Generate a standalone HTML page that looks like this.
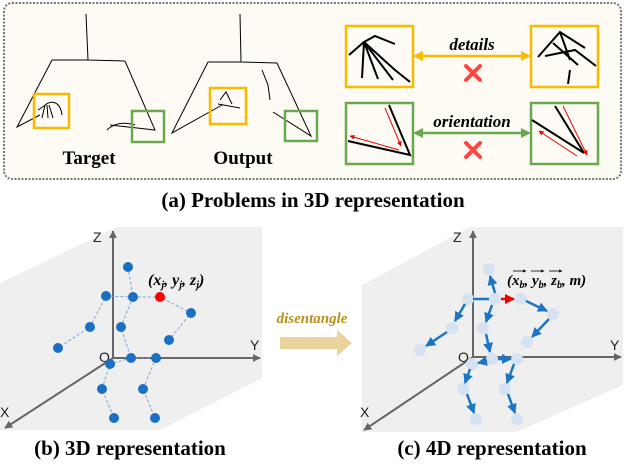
<!DOCTYPE html><html><head><style>body{margin:0;background:#fff}svg{display:block}</style></head><body>
<svg width="626" height="466" viewBox="0 0 626 466" xmlns="http://www.w3.org/2000/svg" font-family="Liberation Serif, serif">
<defs>
<marker id="ab" viewBox="0 0 10 10" refX="9" refY="5" markerWidth="4" markerHeight="4" orient="auto"><path d="M0,0L10,5L0,10z" fill="#1b75c6"/></marker>
<marker id="ar" viewBox="0 0 10 10" refX="9" refY="5" markerWidth="4" markerHeight="4" orient="auto"><path d="M0,0L10,5L0,10z" fill="#e00"/></marker>
<marker id="ag" viewBox="0 0 10 10" refX="9" refY="5" markerWidth="4" markerHeight="4" orient="auto"><path d="M0,0L10,5L0,10z" fill="#666"/></marker>
<marker id="ao" viewBox="0 0 10 10" refX="5" refY="5" markerWidth="4" markerHeight="4" orient="auto-start-reverse"><path d="M0,0L10,5L0,10z" fill="#fbb900"/></marker>
<marker id="agr" viewBox="0 0 10 10" refX="5" refY="5" markerWidth="4" markerHeight="4" orient="auto-start-reverse"><path d="M0,0L10,5L0,10z" fill="#6aa84f"/></marker>
<marker id="rs" viewBox="0 0 10 10" refX="9" refY="5" markerWidth="5" markerHeight="5" orient="auto-start-reverse"><path d="M0,0L10,5L0,10z" fill="#e00"/></marker>
<marker id="ak" viewBox="0 0 10 10" refX="9" refY="5" markerWidth="4" markerHeight="4" orient="auto"><path d="M0,0L10,5L0,10z" fill="#000"/></marker>
</defs>
<rect x="4" y="3" width="617" height="176" rx="8" fill="#fdfbf3" stroke="#777" stroke-width="2" stroke-dasharray="2,1.5"/>
<g stroke="#000" fill="none" stroke-width="1">
<path d="M86,14L88,60M52,60L88,60L125,61M52,60L17,127L40,115M125,61L155,130L110,125M107,130C115,122 125,122 135,125"/>
<path d="M44,106C50,100 60,100 62,115M45,105L42,118M47,105L48,118M49,105L53,118M44,106L38,110"/>
<path d="M240,14L241,62M208,62L241,62L277,63M208,62L172,133L222,105M277,63L311,136L273,112M262,70L268,85L270,100M220,100L226,92L232,104M218,104L240,108"/>
</g>
<g fill="none" stroke-width="2.5">
<rect x="34" y="94" width="35" height="34" stroke="#fbb900"/>
<rect x="132" y="111" width="32" height="31" stroke="#6aa84f"/>
<rect x="210" y="88" width="36" height="36" stroke="#fbb900"/>
<rect x="285" y="111" width="32" height="30" stroke="#6aa84f"/>
<rect x="346" y="26" width="67" height="61" stroke="#fbb900"/>
<rect x="531" y="26" width="67" height="61" stroke="#fbb900"/>
<rect x="346" y="103" width="67" height="61" stroke="#6aa84f"/>
<rect x="531" y="103" width="67" height="61" stroke="#6aa84f"/>
</g>
<g stroke="#000" fill="none" stroke-width="2">
<path d="M349,55L364,42L395,70L410,82M364,42L362,78M364,42L378,79M364,42L393,80M364,42L375,36L395,44"/>
<path d="M538,57L560,32L585,48M553,43L578,65M545,56L575,50L596,66M560,32L570,60M570,70L568,84"/>
<path d="M389,105L410,155L348,141"/>
<path d="M555,106L584,153L532,120"/>
</g>
<g stroke="#e00" stroke-width="1" fill="none">
<path d="M385,108L401,146" marker-end="url(#rs)"/><path d="M399,150L350,136" marker-end="url(#rs)"/>
<path d="M563,106L587,155" marker-end="url(#rs)"/><path d="M577,156L539,131" marker-end="url(#rs)"/>
</g>
<line x1="418" y1="56" x2="526" y2="56" stroke="#fbb900" stroke-width="2.5" marker-start="url(#ao)" marker-end="url(#ao)"/>
<line x1="418" y1="133" x2="526" y2="133" stroke="#6aa84f" stroke-width="2.5" marker-start="url(#agr)" marker-end="url(#agr)"/>
<text x="472" y="50" text-anchor="middle" font-size="17" font-style="italic" font-weight="bold">details</text>
<text x="472" y="127" text-anchor="middle" font-size="17" font-style="italic" font-weight="bold">orientation</text>
<g stroke="#f44" stroke-width="4" stroke-linecap="round"><path d="M466,66L480,80M480,66L466,80M466,143L480,157M480,143L466,157"/></g>
<text x="89" y="164" text-anchor="middle" font-size="19" font-weight="bold">Target</text>
<text x="243" y="164" text-anchor="middle" font-size="19" font-weight="bold">Output</text>
<text x="313" y="207" text-anchor="middle" font-size="21" font-weight="bold">(a) Problems in 3D representation</text>
<polygon points="0,283 117,227 262,227 262,378 160,430 0,430" fill="#efefef"/>
<polygon points="362,285 470,227 623,227 623,385 517,432 362,432" fill="#efefef"/>
<g stroke="#666" stroke-width="2"><line x1="113" y1="358" x2="113" y2="231" marker-end="url(#ag)"/><line x1="113" y1="358" x2="260" y2="358" marker-end="url(#ag)"/><line x1="113" y1="358" x2="5" y2="428" marker-end="url(#ag)"/></g>
<g stroke="#666" stroke-width="2"><line x1="473" y1="357" x2="473" y2="231" marker-end="url(#ag)"/><line x1="473" y1="357" x2="621" y2="357" marker-end="url(#ag)"/><line x1="473" y1="357" x2="364" y2="430" marker-end="url(#ag)"/></g>
<g font-family="Liberation Sans, sans-serif" font-size="14" fill="#222"><text x="93" y="242">Z</text><text x="250" y="350">Y</text><text x="0" y="417">X</text><text x="99" y="362">O</text>
<text x="453" y="242">Z</text><text x="610" y="350">Y</text><text x="360" y="417">X</text><text x="458" y="362">O</text></g>
<g stroke="#7aa7d8" stroke-width="1" stroke-dasharray="3,2" fill="none">
<path d="M128,267L133,297L106,296L90,327L58,348M133,297L160,297L191,313L169,340M133,297L121,327L131,358L156,358L143,389L155,418M131,358L110,364L102,389L114,418"/></g>
<g fill="#1b6fc4">
<circle cx="128" cy="267" r="5"/><circle cx="133" cy="297" r="5"/><circle cx="106" cy="296" r="5"/><circle cx="90" cy="327" r="5"/><circle cx="58" cy="348" r="5"/><circle cx="191" cy="313" r="5"/><circle cx="169" cy="340" r="5"/><circle cx="121" cy="327" r="5"/><circle cx="131" cy="358" r="5"/><circle cx="156" cy="358" r="5"/><circle cx="110" cy="364" r="5"/><circle cx="102" cy="389" r="5"/><circle cx="143" cy="389" r="5"/><circle cx="114" cy="418" r="5"/><circle cx="155" cy="418" r="5"/></g>
<circle cx="160" cy="297" r="5" fill="#f00"/>
<text x="148" y="285" font-size="16" font-style="italic" font-weight="bold">(x<tspan font-size="10" dy="3">j</tspan><tspan dy="-3">, y</tspan><tspan font-size="10" dy="3">j</tspan><tspan dy="-3">, z</tspan><tspan font-size="10" dy="3">j</tspan><tspan dy="-3">)</tspan></text>
<text x="312" y="323" text-anchor="middle" font-size="15" font-style="italic" font-weight="bold" fill="#b8901a">disentangle</text>
<polygon points="280,337 337,337 337,330 352,343 337,356 337,349 280,349" fill="#e8d39a"/>
<g fill="#d6e2f2">
<circle cx="489" cy="269" r="6"/><circle cx="495" cy="299" r="6"/><circle cx="468" cy="299" r="6"/><circle cx="521" cy="299" r="6"/><circle cx="553" cy="314" r="6"/><circle cx="527" cy="342" r="6"/><circle cx="452" cy="328" r="6"/><circle cx="420" cy="350" r="6"/><circle cx="483" cy="328" r="6"/><circle cx="492" cy="359" r="6"/><circle cx="517" cy="359" r="6"/><circle cx="472" cy="364" r="6"/><circle cx="463" cy="389" r="6"/><circle cx="505" cy="389" r="6"/><circle cx="476" cy="419" r="6"/><circle cx="517" cy="419" r="6"/></g>
<g stroke="#1b75c6" stroke-width="2.5" fill="none" marker-end="url(#ab)">
<line x1="495" y1="293" x2="490" y2="276"/><line x1="473" y1="299" x2="489" y2="299" marker-end="none"/>
<line x1="465" y1="304" x2="455" y2="321"/><line x1="447" y1="332" x2="426" y2="346"/>
<line x1="526" y1="301" x2="547" y2="311"/><line x1="549" y1="319" x2="532" y2="337"/>
<line x1="492" y1="305" x2="486" y2="322"/><line x1="486" y1="334" x2="490" y2="352"/>
<line x1="498" y1="359" x2="511" y2="359"/><line x1="487" y1="361" x2="478" y2="363"/>
<line x1="514" y1="364" x2="507" y2="383"/><line x1="470" y1="369" x2="465" y2="383"/>
<line x1="467" y1="394" x2="474" y2="413"/><line x1="508" y1="394" x2="515" y2="413"/>
</g>
<line x1="501" y1="299" x2="514" y2="299" stroke="#e00" stroke-width="2.5" marker-end="url(#ar)"/>
<text x="507" y="285" font-size="15" font-style="italic" font-weight="bold">(x<tspan font-size="10" dy="3">b</tspan><tspan dy="-3">, y</tspan><tspan font-size="10" dy="3">b</tspan><tspan dy="-3">, z</tspan><tspan font-size="10" dy="3">b</tspan><tspan dy="-3">, m)</tspan></text>
<g stroke="#000" stroke-width="0.8"><line x1="513" y1="271" x2="526" y2="271" marker-end="url(#ak)"/><line x1="531" y1="271" x2="544" y2="271" marker-end="url(#ak)"/><line x1="549" y1="271" x2="562" y2="271" marker-end="url(#ak)"/></g>
<text x="130" y="455" text-anchor="middle" font-size="21" font-weight="bold">(b) 3D representation</text>
<text x="492" y="455" text-anchor="middle" font-size="21" font-weight="bold">(c) 4D representation</text>
</svg></body></html>
